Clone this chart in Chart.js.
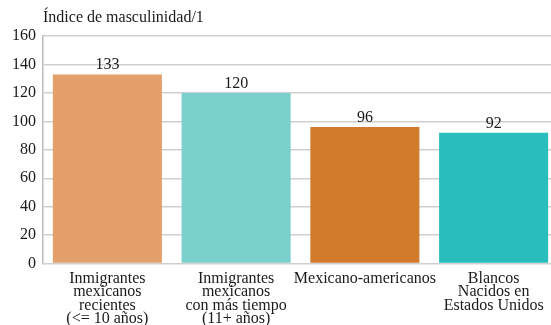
<!DOCTYPE html>
<html>
<head>
<meta charset="utf-8">
<script src="https://cdn.jsdelivr.net/npm/chart.js@4"></script>
<style>
  html, body { margin: 0; padding: 0; background: #fff; overflow: hidden; }
  #wrap { width: 560px; height: 325px; }
</style>
</head>
<body>
<div id="wrap"><canvas id="chart" width="560" height="325"></canvas></div>
<script>
const grupos = [
  ["Inmigrantes", "mexicanos", "recientes", "(<= 10 años)"],
  ["Inmigrantes", "mexicanos", "con más tiempo", "(11+ años)"],
  ["Mexicano-americanos"],
  ["Blancos", "Nacidos en", "Estados Unidos"]
];

const indice = [133, 120, 96, 92];

const colores = ["#E3A06A", "#7BCFCD", "#D27B2C", "#29BDBD"];

const yTicks = [0, 20, 40, 60, 80, 100, 120, 140, 160];

const titulo = "Índice de masculinidad/1";

const serif = "'Liberation Serif', 'DejaVu Serif', serif";

// title above the plot + value over each bar
const etiquetas = {
  id: "etiquetas",
  afterDatasetsDraw(chart) {
    const ctx = chart.ctx;
    const area = chart.chartArea;
    ctx.save();
    ctx.fillStyle = "#1a1a1a";
    ctx.font = "16px " + serif;
    ctx.textAlign = "left";
    ctx.textBaseline = "middle";
    ctx.fillText(titulo, area.left, 18);

    const meta = chart.getDatasetMeta(0);
    ctx.textAlign = "center";
    ctx.textBaseline = "alphabetic";
    meta.data.forEach((bar, i) => {
      ctx.fillText(String(indice[i]), bar.x, bar.y - 5);
    });
    ctx.restore();
  }
};

new Chart(document.getElementById("chart"), {
  type: "bar",
  data: {
    labels: grupos,
    datasets: [{
      data: indice,
      backgroundColor: colores,
      borderWidth: 0,
      barPercentage: 0.847,
      categoryPercentage: 1
    }]
  },
  options: {
    responsive: false,
    animation: false,
    layout: { padding: { top: 36, left: 5, right: 2, bottom: -9 } },
    plugins: {
      legend: { display: false },
      tooltip: { enabled: false }
    },
    scales: {
      x: {
        grid: { display: false, drawTicks: false },
        border: { display: false },
        ticks: {
          color: "#1a1a1a",
          padding: 8,
          maxRotation: 0,
          autoSkip: false,
          font: { family: serif, size: 16, lineHeight: 0.85 }
        }
      },
      y: {
        min: 0,
        max: 160,
        afterBuildTicks(scale) {
          scale.ticks = yTicks.map(v => ({ value: v }));
        },
        grid: { color: "#cfcfcf", lineWidth: 1.5, drawTicks: false },
        border: { display: true, color: "#bbbbbb", width: 1.5 },
        ticks: {
          color: "#1a1a1a",
          padding: 7,
          font: { family: serif, size: 16 }
        }
      }
    }
  },
  plugins: [etiquetas]
});
</script>
</body>
</html>
